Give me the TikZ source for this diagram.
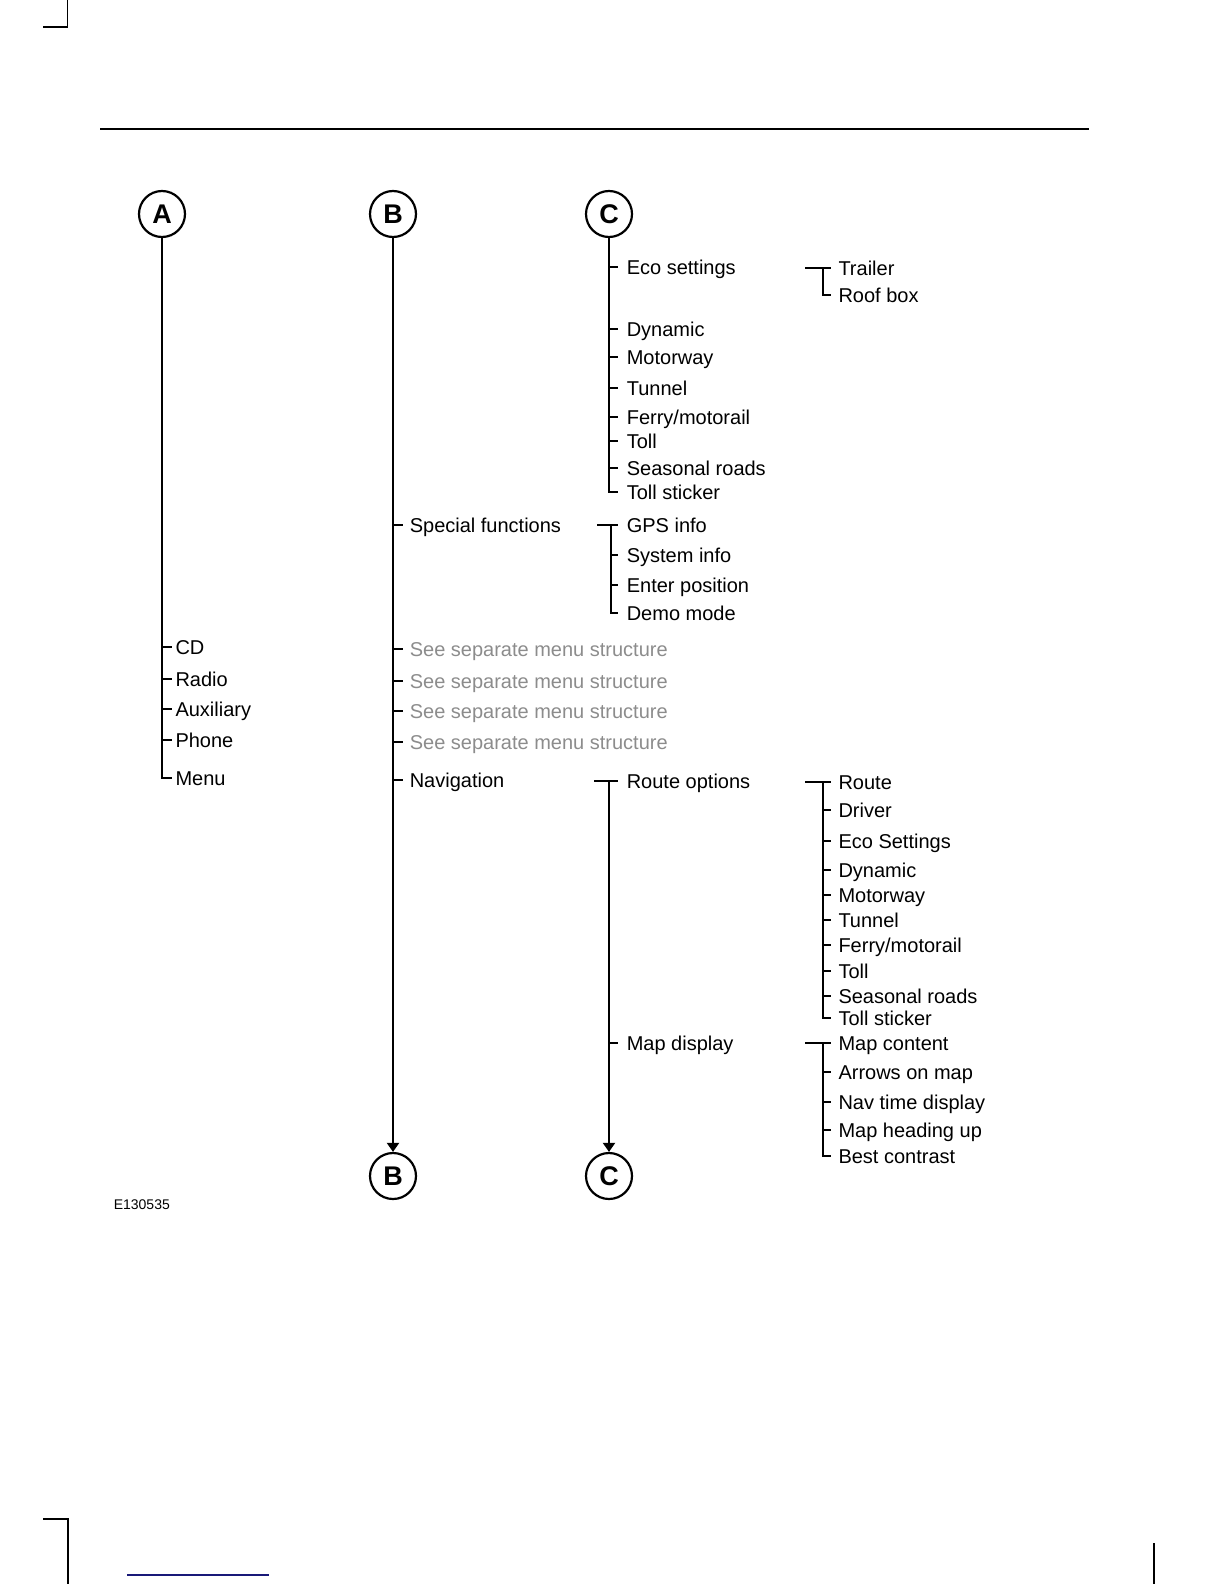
\documentclass[tikz,border=0pt]{standalone}
\usepackage{fontspec}
\setmainfont{Liberation Sans}
\usetikzlibrary{arrows.meta}
\definecolor{seegray}{RGB}{140,140,140}
\definecolor{linknavy}{RGB}{25,25,120}
\begin{document}
\begin{tikzpicture}[x=0.5pt,y=-0.5pt,line width=0.8pt,font=\fontsize{10}{12}\selectfont,
    letter/.style={circle,draw,line width=1.1pt,minimum size=23pt,inner sep=0pt,
                   font=\fontsize{13.5}{15}\selectfont\bfseries},
    leaf/.style={anchor=west,inner ysep=0pt,inner xsep=4pt,text height=7.2pt,text depth=0pt},
    trunk/.style={line width=1pt},
    down/.style={trunk,-{Triangle[width=6pt,length=4.5pt]}}]
  \useasboundingbox (0,0) rectangle (1224,1584);
  % page marks
  \draw[line width=0.7pt] (43,27) -- (67.5,27) -- (67.5,0);
  \draw[line width=0.7pt] (100,129) -- (1089,129);
  \draw[line width=1pt] (43,1519) -- (67.5,1519) -- (67.5,1584);
  \draw[line width=1pt] (1154,1543) -- (1154,1584);
  \draw[linknavy,line width=0.8pt] (127,1575) -- (269,1575);
  \node[anchor=west,inner sep=0pt,font=\fontsize{7}{8}\selectfont] (code) at (113,1205) {E130535};

  \node[letter] (A)  at (162,214)  {A};
  \node[letter] (B)  at (393,214)  {B};
  \node[letter] (C)  at (609,214)  {C};
  \node[letter] (B2) at (393,1176) {B};
  \node[letter] (C2) at (609,1176) {C};

  % A
  \foreach \n/\y/\t in {cd/647/CD,radio/679/Radio,aux/709/Auxiliary,phone/740/Phone,menu/778/Menu}{
    \node[leaf,inner xsep=1.5pt] (\n) at (171.7,\y) {\t};
    \draw (\n.west -| A.south) -- (\n.west);
  }
  \draw[trunk] (A.south) |- (menu.west);

  % B
  \foreach \n/\y/\t/\c in {special/525/Special functions/black,%
                           see1/649/See separate menu structure/seegray,%
                           see2/681/See separate menu structure/seegray,%
                           see3/711/See separate menu structure/seegray,%
                           see4/742/See separate menu structure/seegray,%
                           nav/780/Navigation/black}{
    \node[leaf,inner xsep=3pt,text=\c] (\n) at (403,\y) {\t};
    \draw (\n.west -| B.south) -- (\n.west);
  }
  \draw[down] (B.south) -- (B2.north);

  % C
  \foreach \n/\y/\t in {eco/267/Eco settings,dyn/329/Dynamic,mway/357/Motorway,tun/388/Tunnel,%
                        ferry/417/{Ferry/motorail},toll/441/Toll,season/468/Seasonal roads,sticker/492/Toll sticker}{
    \node[leaf] (\n) at (618,\y) {\t};
    \draw (\n.west -| C.south) -- (\n.west);
  }
  \draw[trunk] (C.south) |- (sticker.west);

  % eco settings
  \coordinate (ecoend)  at (805,268);
  \coordinate (ecofork) at (822.7,268);
  \node[leaf,inner xsep=3.5pt] (trailer) at (830.7,268) {Trailer};
  \node[leaf,inner xsep=3.5pt] (roof)    at (830.7,295) {Roof box};
  \draw (ecoend) -- (trailer.west);
  \draw[trunk] (ecofork) |- (roof.west);

  % special functions
  \coordinate (specend)  at (597,525);
  \coordinate (specfork) at (611,525);
  \foreach \n/\y/\t in {gps/525/GPS info,sysinfo/555/System info,enterpos/585/Enter position,demo/613/Demo mode}{
    \node[leaf] (\n) at (618,\y) {\t};
    \draw (\n.west -| specfork) -- (\n.west);
  }
  \draw (specend) -- (gps.west);
  \draw[trunk] (specfork) |- (demo.west);

  % navigation
  \coordinate (navend) at (594,781);
  \node[leaf] (routeopt) at (618,781)  {Route options};
  \node[leaf] (mapdisp)  at (618,1043) {Map display};
  \draw (navend) -- (routeopt.west);
  \draw (mapdisp.west -| C2.north) -- (mapdisp.west);
  \draw[down] (routeopt.west -| C2.north) -- (C2.north);

  % route options
  \coordinate (routeend)  at (805,782);
  \coordinate (routefork) at (822.7,782);
  \foreach \n/\y/\t in {route/782/Route,driver/810/Driver,ecoset/841/Eco Settings,dyn2/870/Dynamic,%
                        mway2/895/Motorway,tun2/920/Tunnel,ferry2/945/{Ferry/motorail},toll2/971/Toll,%
                        season2/996/Seasonal roads,sticker2/1018/Toll sticker}{
    \node[leaf,inner xsep=3.5pt] (\n) at (830.7,\y) {\t};
    \draw (\n.west -| routefork) -- (\n.west);
  }
  \draw (routeend) -- (route.west);
  \draw[trunk] (routefork) |- (sticker2.west);

  % map display
  \coordinate (mapend)  at (805,1043);
  \coordinate (mapfork) at (822.7,1043);
  \foreach \n/\y/\t in {content/1043/Map content,arrows/1072/Arrows on map,navtime/1102/Nav time display,%
                        heading/1130/Map heading up,contrast/1156/Best contrast}{
    \node[leaf,inner xsep=3.5pt] (\n) at (830.7,\y) {\t};
    \draw (\n.west -| mapfork) -- (\n.west);
  }
  \draw (mapend) -- (content.west);
  \draw[trunk] (mapfork) |- (contrast.west);
\end{tikzpicture}
\end{document}
